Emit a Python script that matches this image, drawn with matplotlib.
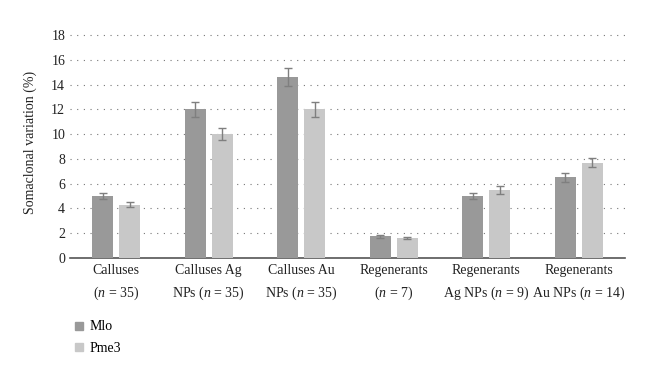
import numpy as np
import matplotlib
matplotlib.use("Agg")
import matplotlib.pyplot as plt
from matplotlib.lines import Line2D

plt.rcParams['font.family'] = ['Liberation Serif', 'DejaVu Serif']
plt.rcParams['mathtext.fontset'] = 'custom'
plt.rcParams['mathtext.rm'] = 'Liberation Serif'
plt.rcParams['mathtext.it'] = 'Liberation Serif:italic'

categories = ['Calluses\n($n$ = 35)', 'Calluses Ag\nNPs ($n$ = 35)', 'Calluses Au\nNPs ($n$ = 35)',
              'Regenerants\n($n$ = 7)', 'Regenerants\nAg NPs ($n$ = 9)', 'Regenerants\nAu NPs ($n$ = 14)']
mlo = [5.0, 12.0, 14.6, 1.75, 5.0, 6.5]
mlo_err = [0.27, 0.6, 0.7, 0.1, 0.25, 0.35]
pme3 = [4.3, 10.0, 12.0, 1.6, 5.5, 7.7]
pme3_err = [0.2, 0.5, 0.6, 0.08, 0.3, 0.35]

c_mlo = '#999999'
c_pme = '#c8c8c8'

fig = plt.figure(figsize=(6.6, 3.74), dpi=100)
ax = fig.add_axes([70/660, 1 - 258/374, 555/660, 223/374 * 18.6/18])

x = np.arange(len(categories))
w = 0.23
err_kw = dict(ecolor='#7f7f7f', elinewidth=1, capsize=3, capthick=1)
ax.bar(x - 0.145, mlo, w, yerr=mlo_err, color=c_mlo, error_kw=err_kw, zorder=3)
ax.bar(x + 0.145, pme3, w, yerr=pme3_err, color=c_pme, error_kw=err_kw, zorder=3)

ax.set_xlim(-0.5, len(categories) - 0.5)
ax.set_ylim(0, 18.6)
ax.set_yticks(range(0, 19, 2))
ax.yaxis.grid(True, linestyle=(0, (1, 5)), color='#777777', linewidth=0.8, zorder=0)
ax.set_xticks(x)
ax.set_xticklabels(categories, fontsize=10, linespacing=1.65)
ax.tick_params(axis='both', length=0, labelsize=10, colors='#222222')
ax.tick_params(axis='x', pad=4)
for s in ['top', 'right', 'left']:
    ax.spines[s].set_visible(False)
ax.spines['bottom'].set_color('#555555')
ax.spines['bottom'].set_linewidth(1.2)
ax.set_ylabel('Somaclonal variation (%)', fontsize=10, color='#222222', labelpad=10)

handles = [Line2D([], [], marker='s', linestyle='none', color=c_mlo, markersize=6),
           Line2D([], [], marker='s', linestyle='none', color=c_pme, markersize=6)]
fig.legend(handles, ['Mlo', 'Pme3'], loc='upper left', bbox_to_anchor=(60/660, 1 - 308/374),
           frameon=False, fontsize=10, handletextpad=0.2, labelspacing=0.6, handlelength=1)

fig.savefig('out.png', dpi=100)
